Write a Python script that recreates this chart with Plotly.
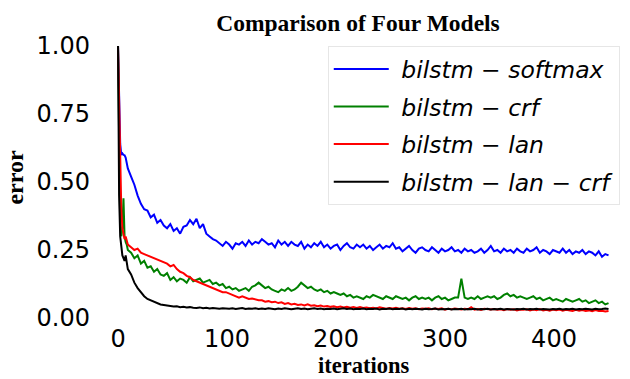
import plotly.graph_objects as go

# iteration index (dense at the start, then every 3 iterations)
iterations = [0, 1, 2, 3, 4, 5, 6, 7, 8, 9] + list(range(12, 451, 3))

softmax = [
    1.00, 0.82, 0.64, 0.60, 0.605, 0.60, 0.598, 0.59, 0.57, 0.55,
    0.52, 0.49, 0.45, 0.42, 0.40, 0.395, 0.37, 0.38, 0.35, 0.36,
    0.34, 0.33, 0.345, 0.32, 0.33, 0.31, 0.335, 0.34, 0.36, 0.345,
    0.365, 0.33, 0.345, 0.31, 0.30, 0.29, 0.285, 0.275, 0.265, 0.28,
    0.27, 0.255, 0.275, 0.27, 0.28, 0.265, 0.285, 0.27, 0.28, 0.275,
    0.29, 0.28, 0.27, 0.275, 0.26, 0.285, 0.27, 0.28, 0.265, 0.28,
    0.27, 0.265, 0.28, 0.255, 0.27, 0.26, 0.275, 0.265, 0.28, 0.26,
    0.27, 0.255, 0.265, 0.27, 0.25, 0.265, 0.275, 0.26, 0.255, 0.27,
    0.26, 0.27, 0.255, 0.265, 0.25, 0.26, 0.27, 0.255, 0.265, 0.26,
    0.275, 0.255, 0.26, 0.245, 0.255, 0.265, 0.25, 0.24, 0.255, 0.26,
    0.25, 0.245, 0.26, 0.25, 0.24, 0.255, 0.245, 0.25, 0.26, 0.245,
    0.25, 0.24, 0.255, 0.245, 0.25, 0.24, 0.245, 0.255, 0.24, 0.25,
    0.265, 0.245, 0.25, 0.24, 0.255, 0.245, 0.25, 0.24, 0.255, 0.245,
    0.24, 0.255, 0.245, 0.25, 0.26, 0.24, 0.25, 0.245, 0.235, 0.25,
    0.245, 0.24, 0.255, 0.24, 0.25, 0.235, 0.245, 0.24, 0.25, 0.235,
    0.245, 0.24, 0.23, 0.245, 0.225, 0.235, 0.23,
]

crf = [
    1.00, 0.62, 0.34, 0.30, 0.33, 0.44, 0.30, 0.28, 0.27, 0.25,
    0.24, 0.22, 0.23, 0.20, 0.21, 0.185, 0.19, 0.17, 0.18, 0.16,
    0.155, 0.165, 0.14, 0.15, 0.135, 0.145, 0.14, 0.13, 0.15, 0.135,
    0.14, 0.145, 0.13, 0.135, 0.14, 0.125, 0.13, 0.12, 0.125, 0.11,
    0.115, 0.105, 0.11, 0.10, 0.105, 0.11, 0.10, 0.115, 0.12, 0.13,
    0.12, 0.11, 0.115, 0.105, 0.10, 0.095, 0.105, 0.10, 0.11, 0.10,
    0.105, 0.115, 0.13, 0.12, 0.11, 0.115, 0.105, 0.10, 0.105, 0.095,
    0.10, 0.09, 0.095, 0.09, 0.085, 0.09, 0.08, 0.085, 0.075, 0.08,
    0.075, 0.07, 0.08, 0.075, 0.085, 0.08, 0.075, 0.07, 0.08, 0.075,
    0.07, 0.08, 0.075, 0.07, 0.075, 0.065, 0.075, 0.08, 0.07, 0.075,
    0.07, 0.075, 0.065, 0.075, 0.08, 0.07, 0.075, 0.065, 0.07, 0.075,
    0.075, 0.145, 0.075, 0.07, 0.075, 0.07, 0.08, 0.07, 0.075, 0.08,
    0.075, 0.08, 0.07, 0.075, 0.085, 0.09, 0.08, 0.085, 0.075, 0.08,
    0.075, 0.07, 0.075, 0.08, 0.07, 0.075, 0.065, 0.07, 0.075, 0.065,
    0.07, 0.065, 0.06, 0.07, 0.065, 0.06, 0.065, 0.07, 0.06, 0.065,
    0.055, 0.06, 0.065, 0.055, 0.06, 0.05, 0.055,
]

lan = [
    1.00, 0.79, 0.55, 0.40, 0.33, 0.31, 0.29, 0.30, 0.28, 0.27,
    0.26, 0.25, 0.255, 0.24, 0.235, 0.23, 0.225, 0.22, 0.215, 0.21,
    0.205, 0.20, 0.19, 0.195, 0.18, 0.17, 0.165, 0.155, 0.15, 0.14,
    0.135, 0.13, 0.125, 0.12, 0.115, 0.11, 0.105, 0.10, 0.095, 0.095,
    0.09, 0.085, 0.08, 0.075, 0.08, 0.075, 0.07, 0.072, 0.068, 0.065,
    0.065, 0.06, 0.062, 0.058, 0.06, 0.055, 0.058, 0.052, 0.055, 0.05,
    0.052, 0.048, 0.05, 0.046, 0.05, 0.045, 0.047, 0.043, 0.046, 0.042,
    0.044, 0.041, 0.043, 0.04, 0.042, 0.039, 0.041, 0.038, 0.04, 0.037,
    0.04, 0.037, 0.039, 0.036, 0.038, 0.035, 0.039, 0.036, 0.034, 0.037,
    0.035, 0.038, 0.034, 0.036, 0.033, 0.037, 0.034, 0.036, 0.032, 0.035,
    0.034, 0.036, 0.032, 0.035, 0.033, 0.036, 0.031, 0.034, 0.032, 0.035,
    0.033, 0.031, 0.034, 0.032, 0.04, 0.031, 0.033, 0.03, 0.034, 0.032,
    0.031, 0.033, 0.03, 0.032, 0.029, 0.033, 0.03, 0.032, 0.028, 0.031,
    0.03, 0.032, 0.028, 0.031, 0.029, 0.033, 0.028, 0.03, 0.027, 0.031,
    0.029, 0.031, 0.027, 0.03, 0.028, 0.026, 0.03, 0.027, 0.029, 0.026,
    0.028, 0.025, 0.029, 0.026, 0.027, 0.024, 0.026,
]

lan_crf = [
    1.00, 0.45, 0.30, 0.25, 0.23, 0.22, 0.21, 0.23, 0.20, 0.18,
    0.16, 0.13, 0.11, 0.095, 0.08, 0.07, 0.065, 0.058, 0.055, 0.05,
    0.048, 0.045, 0.044, 0.042, 0.043, 0.04, 0.041, 0.039, 0.04, 0.038,
    0.037, 0.039, 0.036, 0.038, 0.035, 0.037, 0.036, 0.034, 0.036, 0.035,
    0.034, 0.036, 0.033, 0.035, 0.037, 0.033, 0.035, 0.034, 0.036, 0.033,
    0.035, 0.033, 0.036, 0.034, 0.032, 0.035, 0.033, 0.036, 0.034, 0.032,
    0.034, 0.036, 0.033, 0.035, 0.032, 0.034, 0.036, 0.033, 0.035, 0.032,
    0.034, 0.033, 0.035, 0.032, 0.034, 0.036, 0.033, 0.035, 0.032, 0.034,
    0.033, 0.035, 0.032, 0.034, 0.033, 0.035, 0.031, 0.034, 0.033, 0.035,
    0.032, 0.034, 0.033, 0.035, 0.031, 0.034, 0.032, 0.034, 0.033, 0.031,
    0.034, 0.032, 0.033, 0.035, 0.031, 0.033, 0.032, 0.034, 0.031, 0.033,
    0.032, 0.034, 0.031, 0.033, 0.032, 0.034, 0.031, 0.033, 0.032, 0.034,
    0.031, 0.033, 0.032, 0.034, 0.031, 0.033, 0.032, 0.031, 0.033, 0.032,
    0.034, 0.031, 0.033, 0.032, 0.034, 0.031, 0.033, 0.032, 0.031, 0.033,
    0.032, 0.034, 0.031, 0.033, 0.032, 0.034, 0.031, 0.033, 0.032, 0.034,
    0.033, 0.031, 0.034, 0.032, 0.033, 0.035, 0.033,
]

series_names = ["bilstm − softmax", "bilstm − crf", "bilstm − lan", "bilstm − lan − crf"]
series_values = [softmax, crf, lan, lan_crf]
series_colors = ["#0000ff", "#008000", "#ff0000", "#000000"]

x_ticks = [0, 100, 200, 300, 400]
y_ticks = [0.0, 0.25, 0.5, 0.75, 1.0]

fig = go.Figure()
for i, (name, vals, col) in enumerate(zip(series_names, series_values, series_colors)):
    fig.add_trace(go.Scatter(
        x=iterations, y=vals, mode="lines", name="\u00a0<i>" + name + "</i>",
        line=dict(color=col, width=2), legendgroup="g%d" % i,
    ))

fig.update_layout(
    width=630, height=379,
    margin=dict(l=96, r=0, t=30, b=54),
    paper_bgcolor="white", plot_bgcolor="white",
    title=dict(text="<b>Comparison of Four Models</b>", x=358 / 630, xanchor="center",
               y=1 - 23 / 379, yanchor="middle",
               font=dict(family="Liberation Serif", size=23.5, color="black")),
    font=dict(family="DejaVu Sans", size=24, color="black"),
    legend=dict(x=0.434, y=0.945, xanchor="left", yanchor="top",
                bgcolor="white", bordercolor="#e6e6e6", borderwidth=1,
                font=dict(family="DejaVu Sans", size=23.5, color="black"),
                itemwidth=55,
                traceorder="grouped", tracegroupgap=4),
    showlegend=True,
    annotations=[dict(text="<b>iterations</b>", xref="x", yref="paper",
                      x=225, y=(325 - 378.5) / 295, xanchor="center", yanchor="bottom",
                      showarrow=False, borderpad=0,
                      font=dict(family="Liberation Serif", size=22.5, color="black"))],
)
fig.update_xaxes(range=[-20.2, 469.7], tickvals=x_ticks, ticktext=[str(v) for v in x_ticks],
                 showgrid=False, zeroline=False, showline=False, ticks="", automargin=False,
                 ticklabelstandoff=-3,
                 tickfont=dict(family="DejaVu Sans", size=24, color="black"))
fig.update_yaxes(range=[-0.0257, 1.0588], tickvals=y_ticks, ticktext=["%.2f" % v for v in y_ticks],
                 showgrid=False, zeroline=False, showline=False, ticks="", automargin=False,
                 ticklabelstandoff=5,
                 tickfont=dict(family="DejaVu Sans", size=24, color="black"),
                 title=dict(text="<b>error</b>", standoff=6,
                            font=dict(family="Liberation Serif", size=24, color="black")))

fig.write_html("out.html")
